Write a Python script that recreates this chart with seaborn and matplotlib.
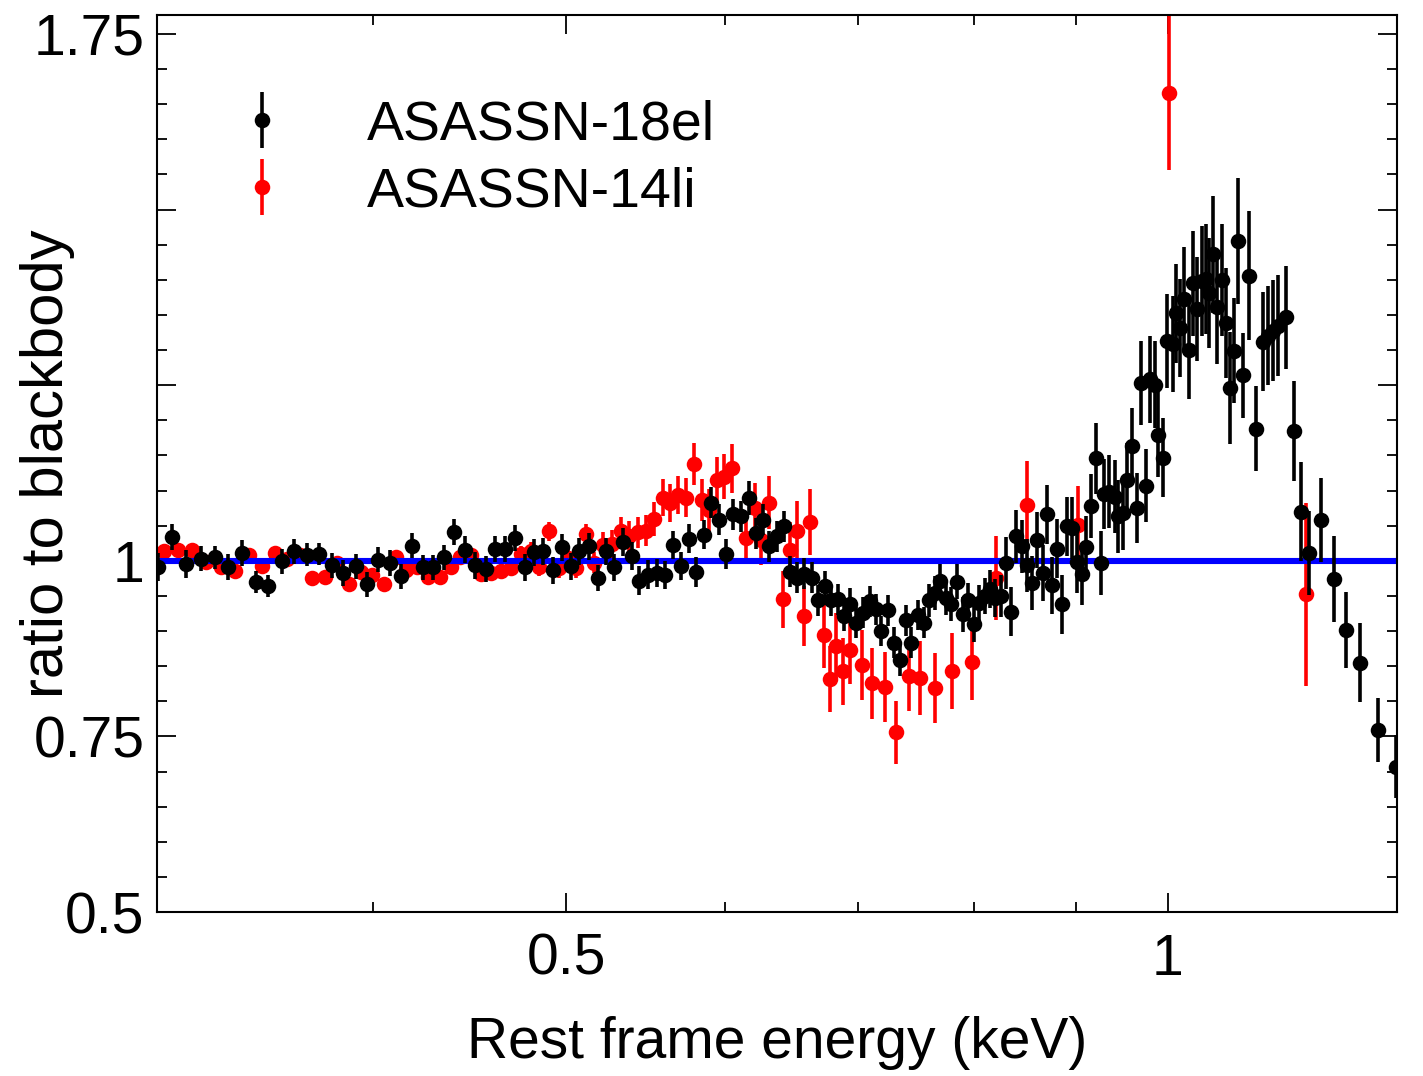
import numpy as np
import pandas as pd
import matplotlib
matplotlib.use("Agg")
import matplotlib.pyplot as plt
import seaborn as sns
from matplotlib.ticker import FixedLocator, FixedFormatter, MultipleLocator, NullFormatter

# ---------------- data ----------------
energy_18el = [0.3124, 0.3173, 0.3228, 0.3281, 0.3334, 0.3387, 0.3442, 0.3496, 0.3547, 0.3602,
               0.3654, 0.3708, 0.3761, 0.3816, 0.3868, 0.3923, 0.3973, 0.4027, 0.4080, 0.4132,
               0.4185, 0.4240, 0.4289, 0.4344, 0.4394, 0.4450, 0.4502, 0.4558, 0.4607, 0.4660,
               0.4714, 0.4765, 0.4819, 0.4869, 0.4922, 0.4975, 0.5027, 0.5076, 0.5130, 0.5184,
               0.5234, 0.5285, 0.5340, 0.5391, 0.5439, 0.5492, 0.5549, 0.5600, 0.5652, 0.5707,
               0.5757, 0.5807, 0.5858, 0.5908, 0.5965, 0.6011, 0.6062, 0.6116, 0.6168, 0.6223,
               0.6270, 0.6319, 0.6372, 0.6424, 0.6472, 0.6521, 0.6579, 0.6638, 0.6681, 0.6733,
               0.6785, 0.6837, 0.6882, 0.6935, 0.6984, 0.7037, 0.7092, 0.7141, 0.7188, 0.7243,
               0.7291, 0.7341, 0.7392, 0.7441, 0.7498, 0.7547, 0.7594, 0.7644, 0.7694, 0.7741,
               0.7792, 0.7843, 0.7897, 0.7943, 0.7995, 0.8044, 0.8097, 0.8144, 0.8191, 0.8255,
               0.8303, 0.8351, 0.8399, 0.8448, 0.8502, 0.8551, 0.8601, 0.8655, 0.8701, 0.8751,
               0.8802, 0.8853, 0.8898, 0.8959, 0.9001, 0.9053, 0.9098, 0.9147, 0.9200, 0.9253,
               0.9289, 0.9346, 0.9407, 0.9443, 0.9498, 0.9542, 0.9597, 0.9646, 0.9694, 0.9750,
               0.9795, 0.9851, 0.9889, 0.9946, 0.9992, 1.0054, 1.0093, 1.0139, 1.0190, 1.0245,
               1.0296, 1.0344, 1.0396, 1.0448, 1.0488, 1.0536, 1.0585, 1.0639, 1.0692, 1.0741,
               1.0791, 1.0837, 1.0907, 1.0983, 1.1064, 1.1155, 1.1228, 1.1293, 1.1358, 1.1460,
               1.1557, 1.1654, 1.1770, 1.1924, 1.2105, 1.2282, 1.2482, 1.2737, 1.3010]
ratio_18el = [0.9908, 1.0337, 0.9960, 1.0031, 1.0050, 0.9912, 1.0111, 0.9700, 0.9639, 0.9993,
              1.0135, 1.0088, 1.0096, 0.9936, 0.9827, 0.9922, 0.9663, 1.0017, 0.9969, 0.9780,
              1.0215, 0.9908, 0.9908, 1.0050, 1.0408, 1.0159, 0.9936, 0.9884, 1.0167, 1.0167,
              1.0323, 0.9908, 1.0120, 1.0135, 0.9865, 1.0191, 0.9922, 1.0135, 1.0205, 0.9756,
              1.0135, 0.9908, 1.0266, 1.0064, 0.9719, 0.9804, 0.9827, 0.9795, 1.0220, 0.9932,
              1.0315, 0.9841, 1.0371, 1.0829, 1.0584, 1.0096, 1.0663, 1.0631, 1.0890, 1.0394,
              1.0584, 1.0205, 1.0347, 1.0489, 0.9841, 0.9756, 0.9813, 0.9756, 0.9436, 0.9639,
              0.9436, 0.9450, 0.9214, 0.9388, 0.9119, 0.9260, 0.9426, 0.9308, 0.9001, 0.9294,
              0.8835, 0.8586, 0.9153, 0.8835, 0.9228, 0.9119, 0.9436, 0.9544, 0.9719, 0.9473,
              0.9388, 0.9700, 0.9238, 0.9436, 0.9096, 0.9402, 0.9497, 0.9592, 0.9473, 0.9497,
              0.9969, 0.9274, 1.0347, 1.0205, 0.9936, 0.9685, 1.0300, 0.9827, 1.0663, 0.9649,
              1.0173, 0.9379, 1.0489, 1.0465, 0.9983, 0.9813, 1.0191, 1.0782, 1.1457, 0.9969,
              1.0947, 1.0985, 1.0914, 1.0631, 1.0677, 1.1151, 1.1637, 1.0748, 1.2534, 1.1066,
              1.2582, 1.2506, 1.1797, 1.1467, 1.3125, 1.3087, 1.3522, 1.3313, 1.3724, 1.3007,
              1.3951, 1.3583, 1.3985, 1.4008, 1.3809, 1.4362, 1.3607, 1.3999, 1.3384, 1.2459,
              1.2993, 1.4552, 1.2639, 1.4056, 1.1882, 1.3121, 1.3206, 1.3277, 1.3347, 1.3465,
              1.1845, 1.0701, 1.0111, 1.0584, 0.9739, 0.9018, 0.8549, 0.7590, 0.7070]
err_18el = [0.020, 0.018, 0.020, 0.018, 0.016, 0.018, 0.018, 0.016, 0.016, 0.018,
            0.018, 0.016, 0.016, 0.018, 0.018, 0.018, 0.018, 0.018, 0.018, 0.018,
            0.018, 0.018, 0.018, 0.018, 0.019, 0.019, 0.019, 0.019, 0.019, 0.019,
            0.019, 0.019, 0.019, 0.019, 0.019, 0.019, 0.019, 0.019, 0.019, 0.019,
            0.019, 0.019, 0.020, 0.020, 0.020, 0.020, 0.020, 0.020, 0.020, 0.020,
            0.021, 0.021, 0.021, 0.022, 0.022, 0.022, 0.022, 0.022, 0.024, 0.022,
            0.022, 0.022, 0.022, 0.022, 0.022, 0.022, 0.022, 0.022, 0.022, 0.022,
            0.022, 0.022, 0.022, 0.022, 0.022, 0.022, 0.022, 0.022, 0.022, 0.022,
            0.022, 0.022, 0.022, 0.022, 0.022, 0.022, 0.024, 0.024, 0.024, 0.024,
            0.024, 0.025, 0.025, 0.025, 0.025, 0.026, 0.026, 0.027, 0.027, 0.030,
            0.037, 0.035, 0.038, 0.038, 0.038, 0.038, 0.040, 0.040, 0.042, 0.040,
            0.042, 0.042, 0.042, 0.044, 0.044, 0.044, 0.044, 0.046, 0.050, 0.045,
            0.050, 0.052, 0.052, 0.052, 0.052, 0.052, 0.054, 0.050, 0.060, 0.052,
            0.062, 0.062, 0.060, 0.056, 0.067, 0.068, 0.070, 0.070, 0.074, 0.070,
            0.075, 0.074, 0.078, 0.078, 0.078, 0.083, 0.080, 0.080, 0.078, 0.080,
            0.075, 0.090, 0.060, 0.092, 0.061, 0.070, 0.070, 0.072, 0.072, 0.073,
            0.071, 0.070, 0.060, 0.060, 0.061, 0.054, 0.056, 0.046, 0.045]

energy_14li = [0.3145, 0.3197, 0.3249, 0.3302, 0.3358, 0.3413, 0.3469, 0.3520, 0.3575, 0.3626,
               0.3678, 0.3732, 0.3787, 0.3841, 0.3893, 0.3946, 0.3999, 0.4053, 0.4108, 0.4159,
               0.4212, 0.4266, 0.4322, 0.4377, 0.4423, 0.4480, 0.4532, 0.4584, 0.4637, 0.4691,
               0.4746, 0.4801, 0.4847, 0.4903, 0.4960, 0.5008, 0.5056, 0.5115, 0.5164, 0.5214,
               0.5270, 0.5326, 0.5377, 0.5429, 0.5481, 0.5534, 0.5587, 0.5637, 0.5685, 0.5740,
               0.5795, 0.5844, 0.5896, 0.5946, 0.5999, 0.6053, 0.6152, 0.6211, 0.6259, 0.6314,
               0.6417, 0.6467, 0.6521, 0.6572, 0.6623, 0.6725, 0.6777, 0.6824, 0.6877, 0.6930,
               0.7032, 0.7110, 0.7215, 0.7313, 0.7418, 0.7519, 0.7646, 0.7798, 0.7977, 0.8207,
               0.8506, 0.9017, 1.0014, 1.1728]
ratio_14li = [1.0145, 1.0159, 1.0149, 0.9983, 0.9908, 0.9861, 1.0078, 0.9932, 1.0111, 1.0031,
              1.0078, 0.9748, 0.9766, 0.9969, 0.9671, 0.9841, 0.9804, 0.9671, 1.0050, 0.9875,
              0.9908, 0.9766, 0.9766, 0.9908, 1.0050, 1.0088, 0.9813, 0.9827, 0.9851, 0.9898,
              1.0096, 1.0145, 0.9908, 1.0418, 0.9898, 1.0040, 0.9898, 1.0380, 0.9969, 1.0230,
              1.0238, 1.0428, 1.0347, 1.0404, 1.0428, 1.0598, 1.0900, 1.0819, 1.0938, 1.0900,
              1.1372, 1.0867, 1.0726, 1.1151, 1.1197, 1.1315, 1.0323, 1.0748, 1.0300, 1.0829,
              0.9450, 1.0159, 1.0428, 0.9214, 1.0546, 0.8944, 0.8316, 0.8788, 0.8424, 0.8732,
              0.8515, 0.8254, 0.8207, 0.7560, 0.8363, 0.8331, 0.8189, 0.8434, 0.8552, 0.9756,
              1.0796, 1.0513, 1.6664, 0.9522]
err_14li = [0.008, 0.008, 0.008, 0.008, 0.008, 0.008, 0.008, 0.008, 0.008, 0.008,
            0.008, 0.008, 0.008, 0.008, 0.008, 0.008, 0.008, 0.008, 0.008, 0.008,
            0.008, 0.008, 0.008, 0.010, 0.010, 0.010, 0.010, 0.010, 0.010, 0.010,
            0.012, 0.012, 0.012, 0.014, 0.014, 0.014, 0.014, 0.015, 0.015, 0.018,
            0.020, 0.020, 0.022, 0.022, 0.022, 0.024, 0.026, 0.027, 0.027, 0.028,
            0.030, 0.030, 0.030, 0.032, 0.032, 0.035, 0.035, 0.036, 0.036, 0.038,
            0.040, 0.040, 0.042, 0.043, 0.047, 0.047, 0.047, 0.047, 0.048, 0.048,
            0.050, 0.050, 0.050, 0.045, 0.050, 0.052, 0.050, 0.054, 0.054, 0.060,
            0.062, 0.055, 0.110, 0.130]

series_labels = ["ASASSN-18el", "ASASSN-14li"]
x_major_ticks = [0.5, 1.0]
x_major_labels = ["0.5", "1"]
x_minor_ticks = [0.4, 0.6, 0.7, 0.8, 0.9]
y_major_ticks = [0.5, 0.75, 1.0, 1.25, 1.5, 1.75]
y_major_labels = ["0.5", "0.75", "1", "", "", "1.75"]
reference_level = 1.0

df18 = pd.DataFrame({"energy": energy_18el, "ratio": ratio_18el, "err": err_18el})
df14 = pd.DataFrame({"energy": energy_14li, "ratio": ratio_14li, "err": err_14li})

# ---------------- style ----------------
sns.set_theme(style="ticks")
plt.rcParams["font.family"] = ["Liberation Sans", "DejaVu Sans"]
plt.rcParams["text.color"] = "black"
plt.rcParams["axes.labelcolor"] = "black"
plt.rcParams["xtick.color"] = "black"
plt.rcParams["ytick.color"] = "black"

fig = plt.figure(figsize=(14.23, 10.76), dpi=100)
ax = fig.add_axes([0.1103, 0.1524, 0.8714, 0.8337])
ax.set_xscale("log")

MS = 125     # marker area (pt^2)
ELW = 2.6    # error bar width (pt)

# ASASSN-14li (red) - underneath
eb14 = ax.errorbar(df14["energy"], df14["ratio"], yerr=df14["err"], fmt="none",
                   ecolor="#ff0000", elinewidth=ELW, capsize=0, zorder=2)
sns.scatterplot(data=df14, x="energy", y="ratio", color="#ff0000", s=MS,
                linewidth=0, ax=ax, legend=False, zorder=2.1)
sc14 = ax.collections[-1]

# blackbody reference line
ax.axhline(reference_level, color="#0000ff", lw=4.4, zorder=2.5)

# ASASSN-18el (black) - on top
eb18 = ax.errorbar(df18["energy"], df18["ratio"], yerr=df18["err"], fmt="none",
                   ecolor="#000000", elinewidth=ELW, capsize=0, zorder=3)
sns.scatterplot(data=df18, x="energy", y="ratio", color="#000000", s=MS,
                linewidth=0, ax=ax, legend=False, zorder=3.1)
sc18 = ax.collections[-1]

# ---------------- axes ----------------
ax.set_xlim(0.3120, 1.302)
ax.set_ylim(0.5, 1.777)

ax.xaxis.set_major_locator(FixedLocator(x_major_ticks))
ax.xaxis.set_major_formatter(FixedFormatter(x_major_labels))
ax.xaxis.set_minor_locator(FixedLocator(x_minor_ticks))
ax.xaxis.set_minor_formatter(NullFormatter())
ax.yaxis.set_major_locator(FixedLocator(y_major_ticks))
ax.yaxis.set_major_formatter(FixedFormatter(y_major_labels))
ax.yaxis.set_minor_locator(MultipleLocator(0.05))
ax.yaxis.set_minor_formatter(NullFormatter())

ax.tick_params(which="both", direction="in", top=True, right=True,
               color="black", width=1.3, labelcolor="black")
ax.tick_params(which="major", length=13.7)
ax.tick_params(which="minor", length=7)
ax.tick_params(axis="x", which="major", pad=15, labelsize=41)
ax.tick_params(axis="y", which="major", pad=9, labelsize=41)

for sp in ax.spines.values():
    sp.set_linewidth(1.5)
    sp.set_color("black")
    sp.set_visible(True)

ax.set_facecolor("white")
ax.grid(False)

ax.set_xlabel("Rest frame energy (keV)", fontsize=41, labelpad=21, color="black")
ax.set_ylabel("ratio to blackbody", fontsize=43, color="black")
ax.yaxis.set_label_coords(-0.066, 0.5)

leg = ax.legend(handles=[(eb18, sc18), (eb14, sc14)], labels=series_labels,
                loc="upper left", bbox_to_anchor=(0.0398, 0.906),
                frameon=False, fontsize=40, borderpad=0, borderaxespad=0,
                handlelength=2.0, handletextpad=0.89, labelspacing=0.27,
                scatterpoints=1, scatteryoffsets=[0.5])
for t in leg.get_texts():
    t.set_color("black")

fig.savefig("out.png", dpi=100, facecolor="white")
